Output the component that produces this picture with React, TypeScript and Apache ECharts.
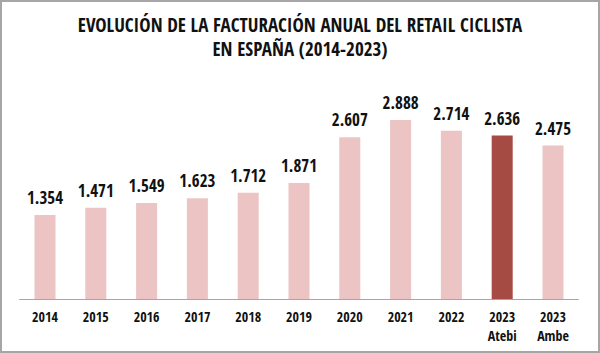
import React, { useEffect, useRef } from "react";
import * as echarts from "echarts";

const categories = ["2014", "2015", "2016", "2017", "2018", "2019", "2020", "2021", "2022", "2023\nAtebi", "2023\nAmbe"];
const values = [1.354, 1.471, 1.549, 1.623, 1.712, 1.871, 2.607, 2.888, 2.714, 2.636, 2.475];
const highlightIndex = 9;
const titleText = "EVOLUCIÓN DE LA FACTURACIÓN ANUAL DEL RETAIL CICLISTA\nEN ESPAÑA (2014-2023)";

const FONT = "'Open Sans Condensed', 'Roboto Condensed', sans-serif";

export default function App() {
  const ref = useRef<HTMLDivElement>(null);
  useEffect(() => {
    if (!ref.current) return;
    const chart = echarts.init(ref.current, null, { renderer: "svg" });
    chart.setOption({
      animation: false,
      backgroundColor: "#ffffff",
      title: {
        text: titleText,
        left: "center",
        top: 8,
        textStyle: {
          fontFamily: FONT,
          fontWeight: "bold",
          fontSize: 19,
          lineHeight: 24,
          color: "#111111",
        },
      },
      graphic: [
        {
          type: "rect",
          shape: { x: 1, y: 1, width: 598, height: 351 },
          style: { fill: "none", stroke: "#a6a6a6", lineWidth: 2 },
          silent: true,
        },
      ],
      grid: { left: 19.6, right: 21.6, top: 100.6, bottom: 54 },
      xAxis: {
        type: "category",
        data: categories,
        axisLine: { show: true, lineStyle: { color: "#a6a6a6", width: 1 } },
        axisTick: { show: false },
        axisLabel: {
          fontFamily: FONT,
          fontWeight: "bold",
          fontSize: 14,
          lineHeight: 19,
          color: "#111111",
          margin: 8,
          interval: 0,
        },
      },
      yAxis: {
        type: "value",
        min: 0,
        max: 3.2,
        show: false,
        splitLine: { show: false },
      },
      series: [
        {
          type: "bar",
          barWidth: 21,
          data: values.map((v, i) => ({
            value: v,
            itemStyle: { color: i === highlightIndex ? "#a64a44" : "#ecc4c4" },
          })),
          label: {
            show: true,
            position: "top",
            distance: 9,
            fontFamily: FONT,
            fontWeight: "bold",
            fontSize: 17,
            color: "#111111",
            formatter: (p: any) => p.value.toFixed(3),
          },
        },
      ],
    });
    return () => chart.dispose();
  }, []);
  return (
    <div
      ref={ref}
      style={{ position: "absolute", left: 0, top: 0, width: 600, height: 353 }}
    />
  );
}
